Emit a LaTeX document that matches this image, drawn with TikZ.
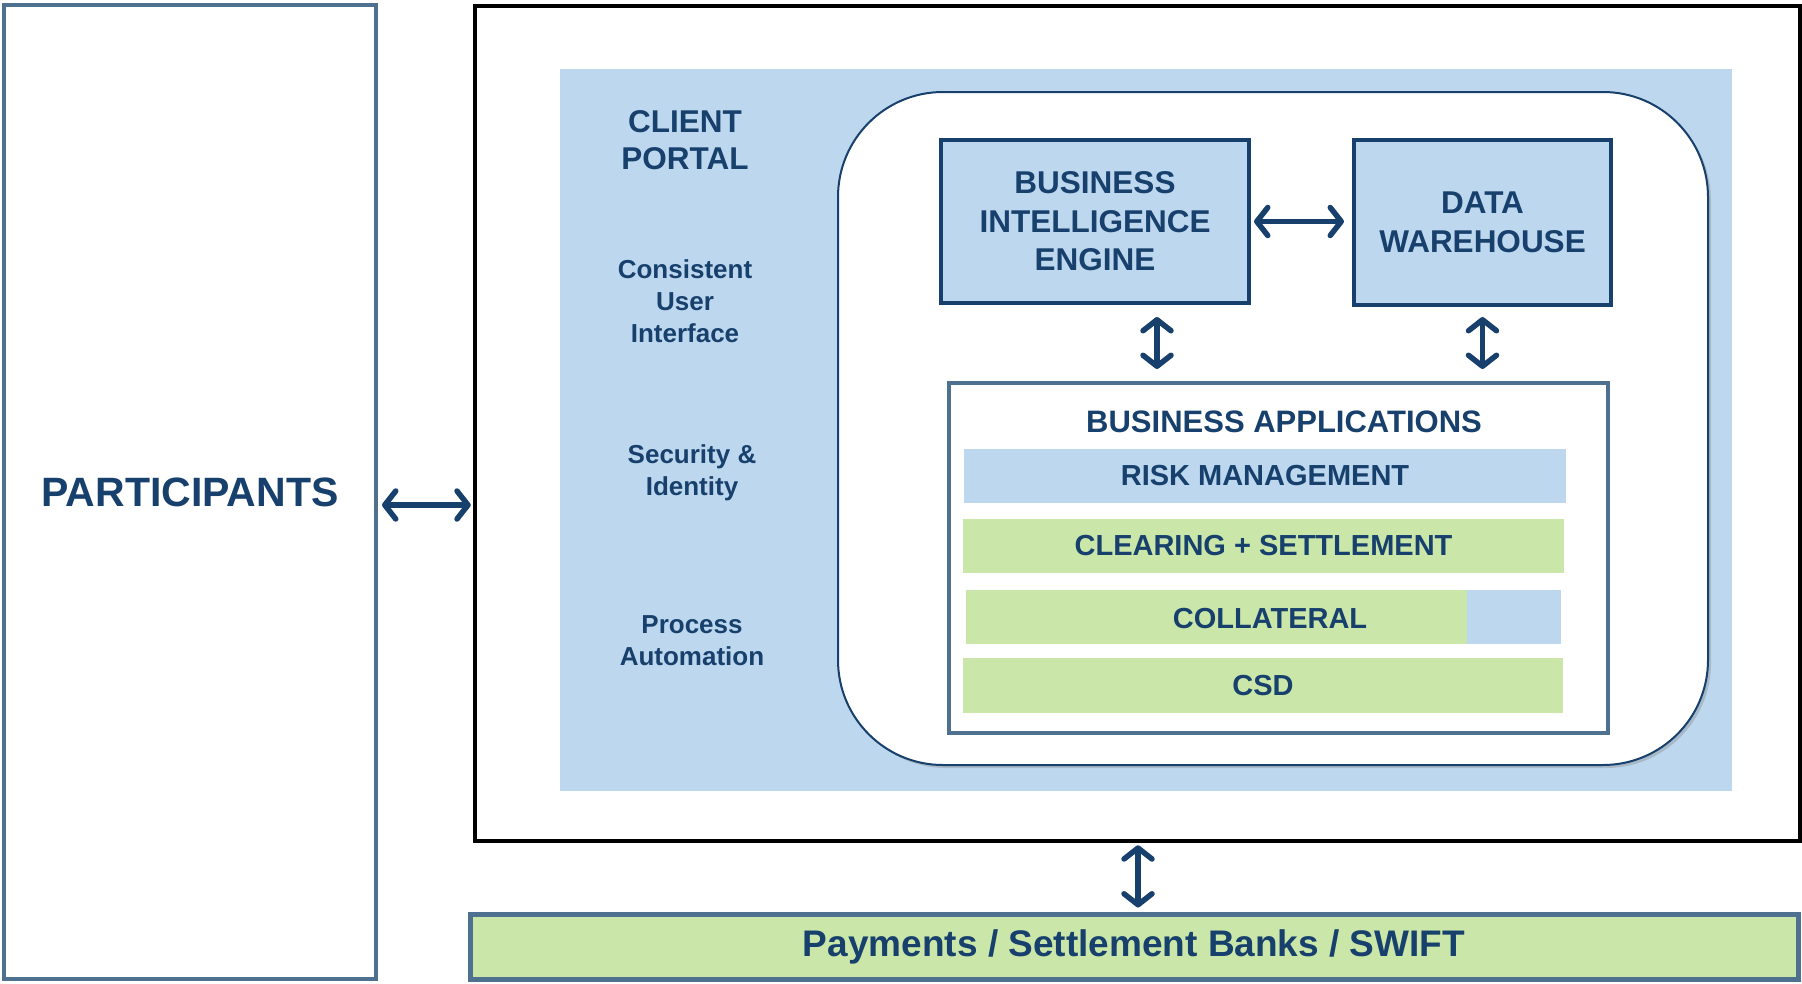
\documentclass[tikz,border=0pt]{standalone}
\usepackage{fontspec}
\setmainfont{Liberation Sans}
\usetikzlibrary{arrows.meta,shadows,calc}
\definecolor{navy}{HTML}{17406D}
\definecolor{lblue}{HTML}{BDD7EE}
\definecolor{lgreen}{HTML}{CAE7A9}
\definecolor{steel}{HTML}{4F7190}
\begin{document}
\begin{tikzpicture}[x=1pt,y=-1pt,
  txt/.style={text=navy, font=\bfseries, align=center, inner sep=0pt},
  sidetxt/.style={txt, font=\bfseries\fontsize{26}{32}\selectfont},
  bigbox/.style={draw=navy, line width=4pt, fill=lblue, txt, font=\bfseries\fontsize{31.5}{38.5}\selectfont},
  bar/.style={txt, font=\bfseries\fontsize{29}{34}\selectfont, minimum height=54pt},
  darr/.style={draw=navy, line width=5.5pt, line cap=round, {Straight Barb[length=11pt,width=28pt,round]}-{Straight Barb[length=11pt,width=28pt,round]}}
]
\useasboundingbox (0,0) rectangle (1802,983);
% participants
\node[draw=steel, line width=4pt, minimum width=372pt, minimum height=974pt, txt,
      font=\bfseries\fontsize{41}{48}\selectfont] (part) at (190,492) {\raisebox{-2pt}{PARTICIPANTS}};
% main frame
\node[draw=black, line width=4.5pt, fill=white, minimum width=1325pt, minimum height=835pt, inner sep=0pt] (main) at (1137.5,423.5) {};
% light blue panel
\node[fill=lblue, minimum width=1172pt, minimum height=722pt, inner sep=0pt] (panel) at (1146,430) {};
% side texts
\node[txt, font=\bfseries\fontsize{31.5}{37}\selectfont] (cp) at (685,140) {CLIENT\\PORTAL};
\node[sidetxt] (cui) at (685,301) {Consistent\\User\\Interface};
\node[sidetxt] (sec) at (692,473) {Security \&\\Identity};
\node[sidetxt] (pa) at (692,641) {Process\\Automation};
% rounded white
\node[draw=navy, line width=2pt, fill=white, rounded corners=105pt,
      drop shadow={opacity=0.35, shadow xshift=3pt, shadow yshift=-3pt},
      minimum width=870pt, minimum height=673pt, inner sep=0pt] (core) at (1273,428.5) {};
% BI and DW
\node[bigbox, minimum width=308pt, minimum height=163pt] (bi) at (1095,221.5) {BUSINESS\\INTELLIGENCE\\ENGINE};
\node[bigbox, minimum width=257pt, minimum height=165pt] (dw) at (1482.5,222.5) {DATA\\WAREHOUSE};
% business applications
\node[draw=steel, line width=4pt, fill=white, minimum width=659pt, minimum height=350pt, inner sep=0pt] (ba) at (1278.5,558) {};
\node[txt, font=\bfseries\fontsize{31}{36}\selectfont] (batitle) at (1284,422) {BUSINESS APPLICATIONS};
\node[bar, fill=lblue, minimum width=602pt] (risk) at (1265,476) {\raisebox{-2pt}{RISK MANAGEMENT}};
\node[bar, fill=lgreen, minimum width=601pt] (clear) at (1263.5,546) {\raisebox{-2pt}{CLEARING + SETTLEMENT}};
\node[bar, fill=lgreen, minimum width=595pt] (coll) at (1263.5,617) {};
\fill[lblue] (1467,590) rectangle (coll.south east);
\node[bar] (colltxt) at (1270,619) {COLLATERAL};
\node[bar, fill=lgreen, minimum width=600pt, minimum height=55pt] (csd) at (1263,685.5) {\raisebox{-1pt}{CSD}};
% payments
\node[draw=steel, line width=5pt, fill=lgreen, minimum width=1328pt, minimum height=65pt, txt,
      font=\bfseries\fontsize{37}{44}\selectfont] (pay) at (1134,946.5) {\raisebox{-3pt}{Payments / Settlement Banks / SWIFT}};
% connectors
\coordinate (ya) at (0,505);
\draw[darr, shorten <=4pt, shorten >=2pt] (part.east |- ya) -- (main.west |- ya);
\draw[darr, shorten <=3pt, shorten >=8pt] (bi.east) -- (dw.west |- bi.east);
\coordinate (xbi) at (1157,0);
\draw[darr, shorten <=12pt, shorten >=12pt] (xbi |- bi.south) -- (xbi |- ba.north);
\draw[darr, shorten <=10pt, shorten >=12pt] (dw.south) -- (dw.south |- ba.north);
\coordinate (xb) at (1138,0);
\draw[darr, shorten <=2pt, shorten >=4pt] (xb |- main.south) -- (xb |- pay.north);
\end{tikzpicture}
\end{document}
